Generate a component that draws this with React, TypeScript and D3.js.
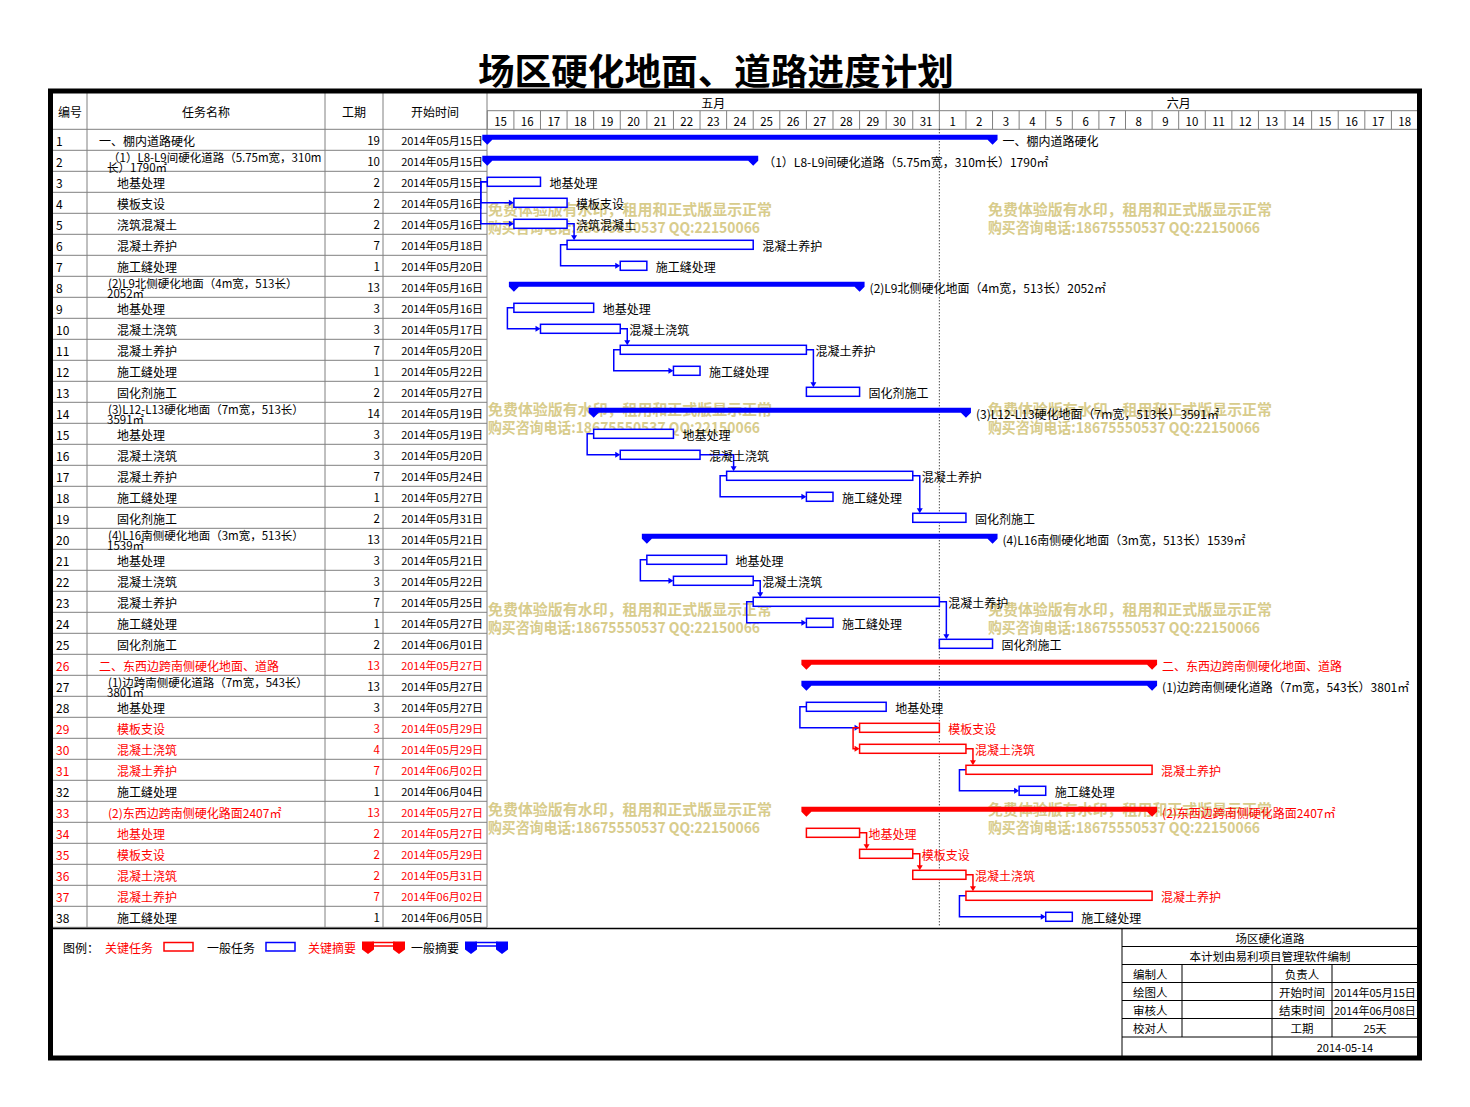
import * as d3 from 'd3';

const FONT = "'Noto Sans CJK SC', 'Noto Sans', sans-serif";
const BLUE = '#0000ff';
const RED = '#ff0000';
const GRID = '#808080';
const WATERMARK = '#d8cc8c';

const title = '场区硬化地面、道路进度计划';
const headerLabels = ['编号', '任务名称', '工期', '开始时间'];
const monthLabels = ['五月', '六月'];

// task table (row id = index + 1); '\n' marks the wrap in the name column
const taskNames = [
  '一、棚内道路硬化',
  '（1）L8-L9间硬化道路（5.75m宽，310m\n长）1790㎡',
  '地基处理', '模板支设', '浇筑混凝土', '混凝土养护', '施工缝处理',
  '(2)L9北侧硬化地面（4m宽，513长）\n2052㎡',
  '地基处理', '混凝土浇筑', '混凝土养护', '施工缝处理', '固化剂施工',
  '(3)L12-L13硬化地面（7m宽，513长）\n3591㎡',
  '地基处理', '混凝土浇筑', '混凝土养护', '施工缝处理', '固化剂施工',
  '(4)L16南侧硬化地面（3m宽，513长）\n1539㎡',
  '地基处理', '混凝土浇筑', '混凝土养护', '施工缝处理', '固化剂施工',
  '二、东西边跨南侧硬化地面、道路',
  '(1)边跨南侧硬化道路（7m宽，543长）\n3801㎡',
  '地基处理', '模板支设', '混凝土浇筑', '混凝土养护', '施工缝处理',
  '(2)东西边跨南侧硬化路面2407㎡',
  '地基处理', '模板支设', '混凝土浇筑', '混凝土养护', '施工缝处理',
];
const outlineLevels = [
  1, 2, 3, 3, 3, 3, 3, 2, 3, 3, 3, 3, 3, 2, 3, 3, 3, 3, 3, 2, 3, 3, 3, 3, 3,
  1, 2, 3, 3, 3, 3, 3, 2, 3, 3, 3, 3, 3,
];
const durations = [
  19, 10, 2, 2, 2, 7, 1, 13, 3, 3, 7, 1, 2, 14, 3, 3, 7, 1, 2, 13, 3, 3, 7, 1, 2,
  13, 13, 3, 3, 4, 7, 1, 13, 2, 2, 2, 7, 1,
];
const startDates = [
  '2014-05-15', '2014-05-15', '2014-05-15', '2014-05-16', '2014-05-16', '2014-05-18', '2014-05-20',
  '2014-05-16', '2014-05-16', '2014-05-17', '2014-05-20', '2014-05-22', '2014-05-27',
  '2014-05-19', '2014-05-19', '2014-05-20', '2014-05-24', '2014-05-27', '2014-05-31',
  '2014-05-21', '2014-05-21', '2014-05-22', '2014-05-25', '2014-05-27', '2014-06-01',
  '2014-05-27', '2014-05-27', '2014-05-27', '2014-05-29', '2014-05-29', '2014-06-02', '2014-06-04',
  '2014-05-27', '2014-05-27', '2014-05-29', '2014-05-31', '2014-06-02', '2014-06-05',
];
const summaryRows = [1, 2, 8, 14, 20, 26, 27, 33];
const criticalRows = [26, 29, 30, 31, 33, 34, 35, 36, 37];

// predecessor, successor, link type
const links: [number, number, 'FS' | 'SS'][] = [
  [3, 4, 'SS'], [3, 5, 'SS'], [5, 6, 'FS'], [6, 7, 'SS'],
  [9, 10, 'SS'], [10, 11, 'FS'], [11, 12, 'SS'], [11, 13, 'FS'],
  [15, 16, 'SS'], [16, 17, 'FS'], [17, 18, 'SS'], [17, 19, 'FS'],
  [21, 22, 'SS'], [22, 23, 'FS'], [23, 24, 'SS'], [23, 25, 'FS'],
  [28, 29, 'SS'], [29, 30, 'SS'], [30, 31, 'FS'], [31, 32, 'SS'],
  [34, 35, 'FS'], [35, 36, 'FS'], [36, 37, 'FS'], [37, 38, 'SS'],
];

const timelineStart = '2014-05-15';
const timelineEnd = '2014-06-19';
const markerDate = '2014-06-01';

const legendItems = [
  { label: '关键任务', critical: true, summary: false },
  { label: '一般任务', critical: false, summary: false },
  { label: '关键摘要', critical: true, summary: true },
  { label: '一般摘要', critical: false, summary: true },
];

const infoTitle = '场区硬化道路';
const infoSubtitle = '本计划由易利项目管理软件编制';
const infoRows = [
  ['编制人', '负责人', ''],
  ['绘图人', '开始时间', '2014年05月15日'],
  ['审核人', '结束时间', '2014年06月08日'],
  ['校对人', '工期', '25天'],
];
const infoDate = '2014-05-14';

const watermarkLines = ['免费体验版有水印，租用和正式版显示正常', '购买咨询电话:18675550537 QQ:22150066'];

const COLS = [53, 87, 325, 383, 487];

const summaryPath = (s: number, e: number, top: number, w = 5, h = 5, tip = 10) =>
  `M${s - w},${top} H${e + w} V${top + h} L${e},${top + tip} L${e - w},${top + h} H${s + w} L${s},${top + tip} L${s - w},${top + h} Z`;

const endCap = (c: number, top: number, w: number) =>
  `M${c - w},${top} H${c + w} V${top + 8} L${c},${top + 12.5} L${c - w},${top + 8} Z`;

export default function App() {
  const W = 1470;
  const H = 1107;
  const parse = d3.utcParse('%Y-%m-%d');
  const fmt = d3.utcFormat('%Y年%m月%d日');
  const t0 = parse(timelineStart)!;
  const t1 = parse(timelineEnd)!;

  const x = d3.scaleUtc().domain([t0, t1]).range([487.3, 1418]);
  const ids = d3.range(1, taskNames.length + 1);
  const y = d3.scaleBand<number>().domain(ids).range([129.3, 927.3]);
  const rowH = y.bandwidth();

  const tasks = ids.map((id, i) => {
    const start = parse(startDates[i])!;
    return {
      id,
      name: taskNames[i],
      level: outlineLevels[i],
      dur: durations[i],
      start,
      end: d3.utcDay.offset(start, durations[i]),
      critical: criticalRows.includes(id),
      summary: summaryRows.includes(id),
    };
  });
  const byId = new Map(tasks.map((t) => [t.id, t]));

  const days = d3.utcDay.range(t0, t1);
  const dayW = (x(t1) - x(t0)) / days.length;
  const months = d3.utcMonth.range(d3.utcMonth.floor(t0), t1).map((m, i) => {
    const a = m < t0 ? t0 : m;
    const next = d3.utcMonth.offset(m, 1);
    const b = next > t1 ? t1 : next;
    return { label: monthLabels[i], a: x(a), b: x(b) };
  });
  const markerX = x(parse(markerDate)!);

  const linkShapes = links.map(([from, to, type]) => {
    const a = byId.get(from)!;
    const b = byId.get(to)!;
    const color = a.critical && b.critical ? RED : BLUE;
    const ay = y(a.id)! + 10.5;
    const bTop = y(b.id)! + 6;
    if (type === 'FS') {
      const xa = x(a.end);
      const xb = x(b.start) + 7;
      return {
        color,
        line: `M${xa},${ay} H${xb} V${bTop - 4}`,
        arrow: `M${xb - 3},${bTop - 5} L${xb + 3},${bTop - 5} L${xb},${bTop} Z`,
      };
    }
    const xa = x(a.start);
    const xl = xa - 6.5;
    const xb = x(b.start);
    const cy = y(b.id)! + 10.5;
    return {
      color,
      line: `M${xa},${ay} H${xl} V${cy} H${xb - 4}`,
      arrow: `M${xb - 5},${cy - 3} L${xb - 5},${cy + 3} L${xb},${cy} Z`,
    };
  });

  const txt = { fontFamily: FONT, fontSize: 12 };

  return (
    <svg
      width={W}
      height={H}
      style={{ position: 'absolute', left: 0, top: 0, display: 'block' }}
    >
      <rect x={0} y={0} width={W} height={H} fill="#fff" />
      <text
        x={716}
        y={69}
        textAnchor="middle"
        dominantBaseline="central"
        fontFamily={FONT}
        fontSize={36}
        fontWeight={700}
        textLength={476}
        lengthAdjust="spacingAndGlyphs"
      >
        {title}
      </text>

      {/* watermark, behind everything */}
      <g fill={WATERMARK} fontFamily={FONT} fontSize={15} fontWeight={700}>
        {[208, 408, 608, 808].map((wy) =>
          [488, 988].map((wx) => (
            <g key={`${wx}-${wy}`}>
              <text x={wx} y={wy} dominantBaseline="central" textLength={284} lengthAdjust="spacingAndGlyphs">
                {watermarkLines[0]}
              </text>
              <text x={wx} y={wy + 18} dominantBaseline="central" textLength={272} lengthAdjust="spacingAndGlyphs">
                {watermarkLines[1]}
              </text>
            </g>
          ))
        )}
      </g>

      {/* table grid */}
      <g stroke={GRID} strokeWidth={1}>
        {ids.map((id) => (
          <line key={id} x1={COLS[0]} x2={COLS[4]} y1={y(id)! + rowH} y2={y(id)! + rowH} />
        ))}
        {COLS.slice(1).map((c) => (
          <line key={c} x1={c} x2={c} y1={93} y2={927.3} />
        ))}
        <line x1={COLS[0]} x2={1418} y1={129.3} y2={129.3} />
        <line x1={COLS[4]} x2={1418} y1={110.7} y2={110.7} />
        {days.map((d) => (
          <line key={+d} x1={x(d)} x2={x(d)} y1={110.7} y2={129.3} />
        ))}
        {months.slice(1).map((m) => (
          <line key={m.a} x1={m.a} x2={m.a} y1={93} y2={110.7} />
        ))}
      </g>

      {/* table header */}
      <g {...txt} dominantBaseline="central">
        <text x={58} y={111.5}>{headerLabels[0]}</text>
        <text x={(COLS[1] + COLS[2]) / 2} y={111.5} textAnchor="middle">{headerLabels[1]}</text>
        <text x={(COLS[2] + COLS[3]) / 2} y={111.5} textAnchor="middle">{headerLabels[2]}</text>
        <text x={(COLS[3] + COLS[4]) / 2} y={111.5} textAnchor="middle">{headerLabels[3]}</text>
        {months.map((m) => (
          <text key={m.label} x={(m.a + m.b) / 2} y={102.5} textAnchor="middle">{m.label}</text>
        ))}
        {days.map((d) => (
          <text key={+d} x={x(d) + dayW / 2} y={120.5} textAnchor="middle" fontSize={11.5}>
            {d.getUTCDate()}
          </text>
        ))}
      </g>

      {/* table rows */}
      <g {...txt} dominantBaseline="central">
        {tasks.map((t) => {
          const top = y(t.id)!;
          const color = t.critical ? RED : '#000';
          const lines = t.name.split('\n');
          const nx = 90 + t.level * 9;
          return (
            <g key={t.id} fill={color}>
              <text x={56} y={top + 11}>{t.id}</text>
              {lines.length === 1 ? (
                <text x={nx} y={top + 11}>{lines[0]}</text>
              ) : (
                lines.map((l, k) => (
                  <text key={k} x={k === 0 ? nx : nx - 1} y={top + 6.5 + k * 10.5} fontSize={11.5}>{l}</text>
                ))
              )}
              <text x={380} y={top + 11} textAnchor="end" fontSize={11.5}>{t.dur}</text>
              <text x={483} y={top + 11} textAnchor="end" fontSize={11}>{fmt(t.start)}</text>
            </g>
          );
        })}
      </g>

      {/* status line */}
      <line x1={markerX} x2={markerX} y1={129.3} y2={927.3} stroke="#000" strokeWidth={1} strokeDasharray="1,2" />

      {/* links */}
      <g>
        {linkShapes.map((l, i) => (
          <g key={i}>
            <path d={l.line} fill="none" stroke={l.color} strokeWidth={1.5} />
            <path d={l.arrow} fill={l.color} />
          </g>
        ))}
      </g>

      {/* bars and labels */}
      <g>
        {tasks.map((t) => {
          const top = y(t.id)!;
          const color = t.critical ? RED : BLUE;
          const xs = x(t.start);
          const xe = x(t.end);
          return (
            <g key={t.id}>
              {t.summary ? (
                <path d={summaryPath(xs, xe, top + 5.5)} fill={color} />
              ) : (
                <rect x={xs} y={top + 6} width={xe - xs} height={9} fill="#fff" stroke={color} strokeWidth={1.5} />
              )}
              <text
                x={xe + (t.summary ? 10 : 9)}
                y={top + 11.5}
                dominantBaseline="central"
                fontFamily={FONT}
                fontSize={12}
                fill={t.critical ? RED : '#000'}
              >
                {t.name.replace('\n', '')}
              </text>
            </g>
          );
        })}
      </g>

      {/* legend */}
      <g fontFamily={FONT} fontSize={12} dominantBaseline="central">
        <text x={63} y={947}>图例：</text>
        {legendItems.map((it, i) => {
          const lx = [105, 207, 308, 411][i];
          const sx = [164, 266, 362, 465][i];
          const color = it.critical ? RED : BLUE;
          return (
            <g key={it.label}>
              <text x={lx} y={947} fill={it.critical ? RED : '#000'}>{it.label}</text>
              {it.summary ? (
                <g fill={color}>
                  <rect x={sx + 11} y={942.5} width={21} height={3.5} fill="#fff" stroke={color} strokeWidth={1.5} />
                  <path d={endCap(sx + 6, 941.5, 6)} />
                  <path d={endCap(sx + 37, 941.5, 6)} />
                </g>
              ) : (
                <rect x={sx} y={942.5} width={29} height={8.5} fill="#fff" stroke={color} strokeWidth={1.5} />
              )}
            </g>
          );
        })}
      </g>

      {/* info block */}
      <g stroke="#000" strokeWidth={1}>
        <line x1={53} x2={1417} y1={928.5} y2={928.5} strokeWidth={1.5} />
        <line x1={1122} x2={1122} y1={928.5} y2={1056} />
        {[946.5, 964.5, 982.5, 1000.5, 1018.5, 1037].map((ly) => (
          <line key={ly} x1={1122} x2={1417} y1={ly} y2={ly} />
        ))}
        <line x1={1182} x2={1182} y1={964.5} y2={1037} />
        <line x1={1272} x2={1272} y1={964.5} y2={1056} />
        <line x1={1332} x2={1332} y1={964.5} y2={1037} />
      </g>
      <g fontFamily={FONT} fontSize={11.5} dominantBaseline="central">
        <text x={1270} y={937.5} textAnchor="middle">{infoTitle}</text>
        <text x={1270} y={955.5} textAnchor="middle">{infoSubtitle}</text>
        {infoRows.map((r, i) => {
          const ry = 973.5 + i * 18.2;
          const last = i === infoRows.length - 1;
          return (
            <g key={r[0]}>
              <text x={1133} y={ry}>{r[0]}</text>
              <text x={1302} y={ry} textAnchor="middle">{r[1]}</text>
              <text x={last ? 1375 : 1334} y={ry} textAnchor={last ? 'middle' : 'start'} fontSize={11}>{r[2]}</text>
            </g>
          );
        })}
        <text x={1345} y={1046.5} textAnchor="middle" fontSize={11}>{infoDate}</text>
      </g>

      {/* outer frame */}
      <rect x={50.5} y={91} width={1369} height={967} fill="none" stroke="#000" strokeWidth={5} />
    </svg>
  );
}
